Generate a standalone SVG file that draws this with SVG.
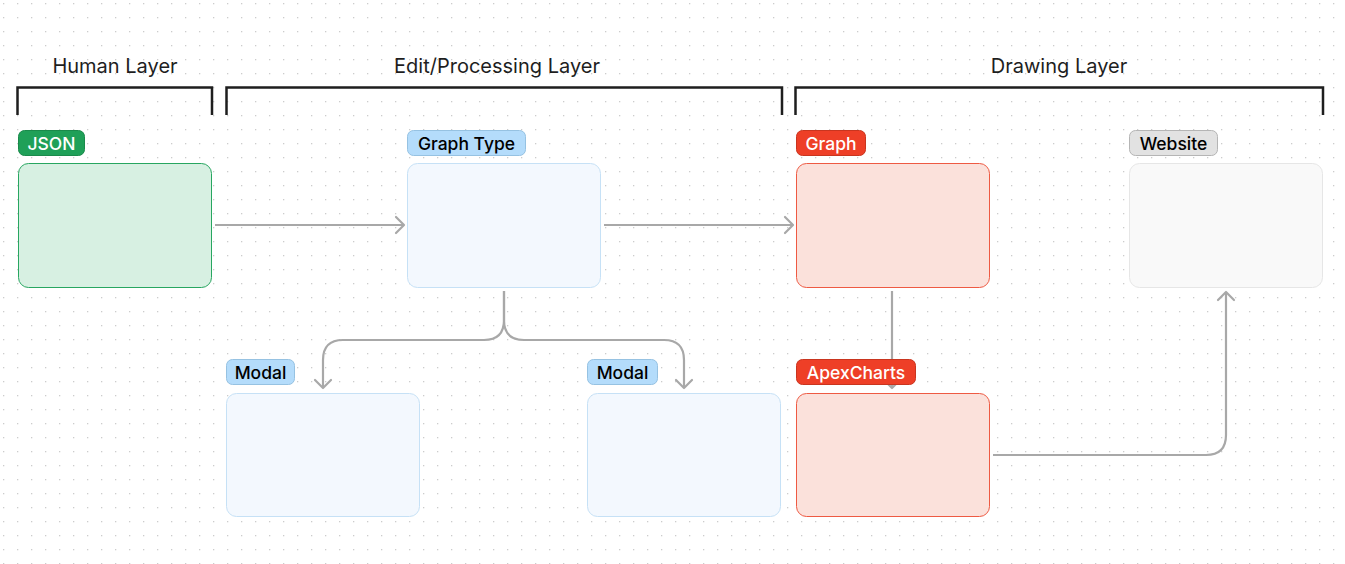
<svg xmlns="http://www.w3.org/2000/svg" width="1345" height="564" viewBox="0 0 1345 564">
<defs>
<pattern id="dots" x="0" y="0" width="14" height="14" patternUnits="userSpaceOnUse">
<rect x="3" y="3" width="1.3" height="1.3" fill="#cccccc"/>
</pattern>
<marker id="arr" viewBox="0 0 20 20" refX="17" refY="10" markerWidth="20" markerHeight="20" markerUnits="userSpaceOnUse" orient="auto">
<path d="M9 2 L17 10 L9 18" fill="none" stroke="#a8a8a8" stroke-width="2.2" stroke-linecap="round" stroke-linejoin="round"/>
</marker>
<style>
.title{font-family:Inter,"Liberation Sans",sans-serif;font-size:20px;fill:#1e1e1e;text-anchor:middle}
.br{fill:none;stroke:#1e1e1e;stroke-width:2.5}
.tag{font-family:Inter,"Liberation Sans",sans-serif;font-size:17.5px;font-weight:500;text-anchor:middle}
.conn{fill:none;stroke:#a8a8a8;stroke-width:2.2;marker-end:url(#arr)}
.green .box{fill:#d7f0e2;stroke:#27a660}
.green .tb{fill:#1fa058;stroke:#1a8a4b}
.green .tag{fill:#ffffff}
.blue .box{fill:#f3f8fe;stroke:#c6e1f6}
.blue .tb{fill:#b4dcfb;stroke:#96c2e2}
.blue .tag{fill:#000000}
.red .box{fill:#fbe1db;stroke:#ee5a43}
.red .tb{fill:#ee3f27;stroke:#c9351f}
.red .tag{fill:#ffffff}
.gray .box{fill:#f9f9f9;stroke:#e6e6e6}
.gray .tb{fill:#e2e2e2;stroke:#b5b5b5}
.gray .tag{fill:#000000}
</style>
</defs>
<rect width="1345" height="564" fill="#ffffff"/>
<rect width="1345" height="564" fill="url(#dots)"/>

<g id="layers">
<text class="title" x="115" y="73">Human Layer</text>
<path class="br" d="M17.5 115 V87.5 H212 V115"/>
<text class="title" x="497" y="73">Edit/Processing Layer</text>
<path class="br" d="M226.5 115 V87.5 H782 V115"/>
<text class="title" x="1059" y="73">Drawing Layer</text>
<path class="br" d="M795.5 115 V87.5 H1323 V115"/>
</g>

<g id="connectors">
<path class="conn" d="M215 225 H404"/>
<path class="conn" d="M604 225 H793"/>
<path class="conn" d="M504 291 V320 Q504 340 484 340 H343 Q323 340 323 360 V388"/>
<path class="conn" d="M504 291 V320 Q504 340 524 340 H664 Q684 340 684 360 V388"/>
<path class="conn" d="M892 291 V388"/>
<path class="conn" d="M993 455 H1206 Q1226 455 1226 435 V292"/>
</g>

<g id="json" class="green">
<rect class="box" x="18.5" y="163.5" width="193" height="124" rx="10"/>
<rect class="tb" x="18.5" y="130.5" width="66" height="25" rx="6"/>
<text class="tag" x="51.5" y="149.5">JSON</text>
</g>

<g id="graph-type" class="blue">
<rect class="box" x="407.5" y="163.5" width="193" height="124" rx="10"/>
<rect class="tb" x="407.5" y="130.5" width="118" height="25" rx="6"/>
<text class="tag" x="466.5" y="149.5">Graph Type</text>
</g>

<g id="graph" class="red">
<rect class="box" x="796.5" y="163.5" width="193" height="124" rx="10"/>
<rect class="tb" x="796.5" y="130.5" width="69" height="25" rx="6"/>
<text class="tag" x="831" y="149.5">Graph</text>
</g>

<g id="website" class="gray">
<rect class="box" x="1129.5" y="163.5" width="193" height="124" rx="10"/>
<rect class="tb" x="1129.5" y="130.5" width="88" height="25" rx="6"/>
<text class="tag" x="1173.5" y="149.5">Website</text>
</g>

<g id="modal-1" class="blue">
<rect class="box" x="226.5" y="393.5" width="193" height="123" rx="10"/>
<rect class="tb" x="226.5" y="359.5" width="68" height="25" rx="6"/>
<text class="tag" x="260.5" y="378.5">Modal</text>
</g>

<g id="modal-2" class="blue">
<rect class="box" x="587.5" y="393.5" width="193" height="123" rx="10"/>
<rect class="tb" x="587.5" y="359.5" width="70" height="25" rx="6"/>
<text class="tag" x="622.5" y="378.5">Modal</text>
</g>

<g id="apexcharts" class="red">
<rect class="box" x="796.5" y="393.5" width="193" height="123" rx="10"/>
<rect class="tb" x="796.5" y="359.5" width="119" height="25" rx="6"/>
<text class="tag" x="856" y="378.5">ApexCharts</text>
</g>
</svg>
